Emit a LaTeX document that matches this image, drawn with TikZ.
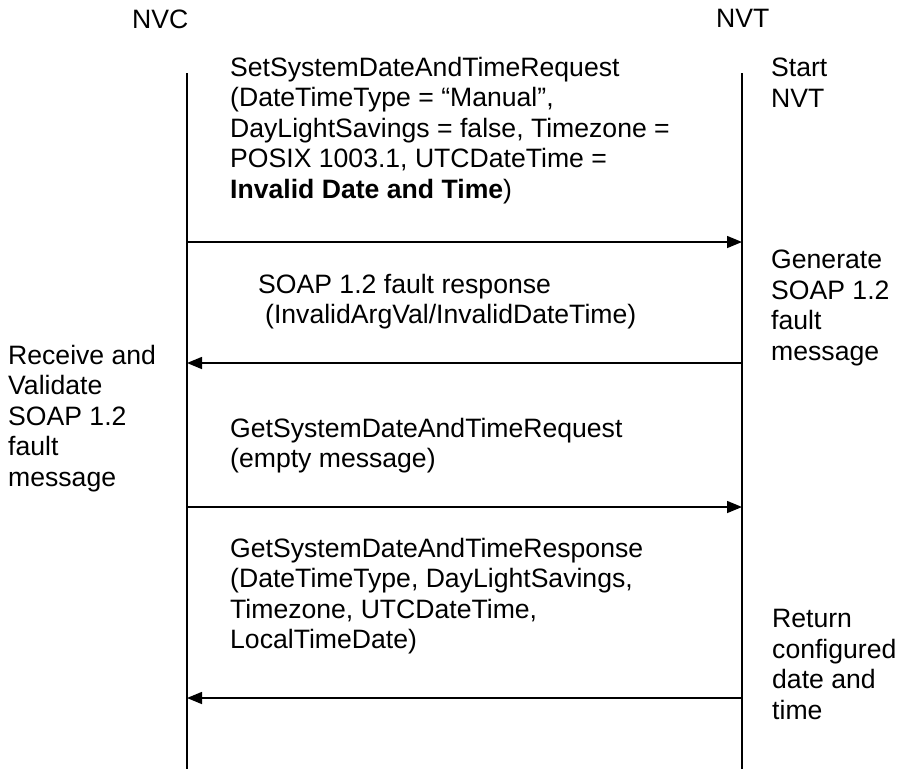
\documentclass[tikz,border=0pt]{standalone}
\usepackage{fontspec}
\setmainfont{Liberation Sans}
\usetikzlibrary{arrows.meta}
\begin{document}
\begin{tikzpicture}[x=1pt,y=-1pt,
  txt/.style={anchor=north west, inner sep=0pt, align=left, font=\fontsize{26.6}{30.5}\selectfont},
  life/.style={line width=1.9pt},
  msg/.style={line width=1.5pt, -{Triangle[length=15pt,width=12pt]}}]
\useasboundingbox (0,0) rectangle (900,769);
% lifelines
\coordinate (ctop) at (187,73);
\coordinate (cbot) at (187,769);
\coordinate (ttop) at (742,73);
\coordinate (tbot) at (742,769);
\draw[life] (ctop) -- (cbot);
\draw[life] (ttop) -- (tbot);
% headers
\node[txt] (nvc) at (132,10) {NVC};
\node[txt] (nvt) at (716,9) {NVT};
% texts
\node[txt] (req1) at (230,57) {SetSystemDateAndTimeRequest\\(DateTimeType = “Manual”,\\DayLightSavings = false, Timezone =\\POSIX 1003.1, UTCDateTime =\\\textbf{Invalid Date and Time})};
\node[txt] (start) at (771,58) {Start\\NVT};
\node[txt] (fault) at (258,274) {SOAP 1.2 fault response\\\hspace*{7pt}(InvalidArgVal/InvalidDateTime)};
\node[txt] (gen) at (771,250) {Generate\\SOAP 1.2\\fault\\message};
\node[txt] (recv) at (8,345) {Receive and\\Validate\\SOAP 1.2\\fault\\message};
\node[txt] (req2) at (230,418) {GetSystemDateAndTimeRequest\\(empty message)};
\node[txt] (resp) at (230,538) {GetSystemDateAndTimeResponse\\(DateTimeType, DayLightSavings,\\Timezone, UTCDateTime,\\LocalTimeDate)};
\node[txt] (ret) at (772,609) {Return\\configured\\date and\\time};
% messages
\coordinate (m1c) at (187,242); \coordinate (m1t) at (742,242);
\coordinate (m2c) at (187,363); \coordinate (m2t) at (742,363);
\coordinate (m3c) at (187,507); \coordinate (m3t) at (742,507);
\coordinate (m4c) at (187,698); \coordinate (m4t) at (742,698);
\draw[msg] (m1c) -- (m1t);
\draw[msg] (m2t) -- (m2c);
\draw[msg] (m3c) -- (m3t);
\draw[msg] (m4t) -- (m4c);
\end{tikzpicture}
\end{document}
